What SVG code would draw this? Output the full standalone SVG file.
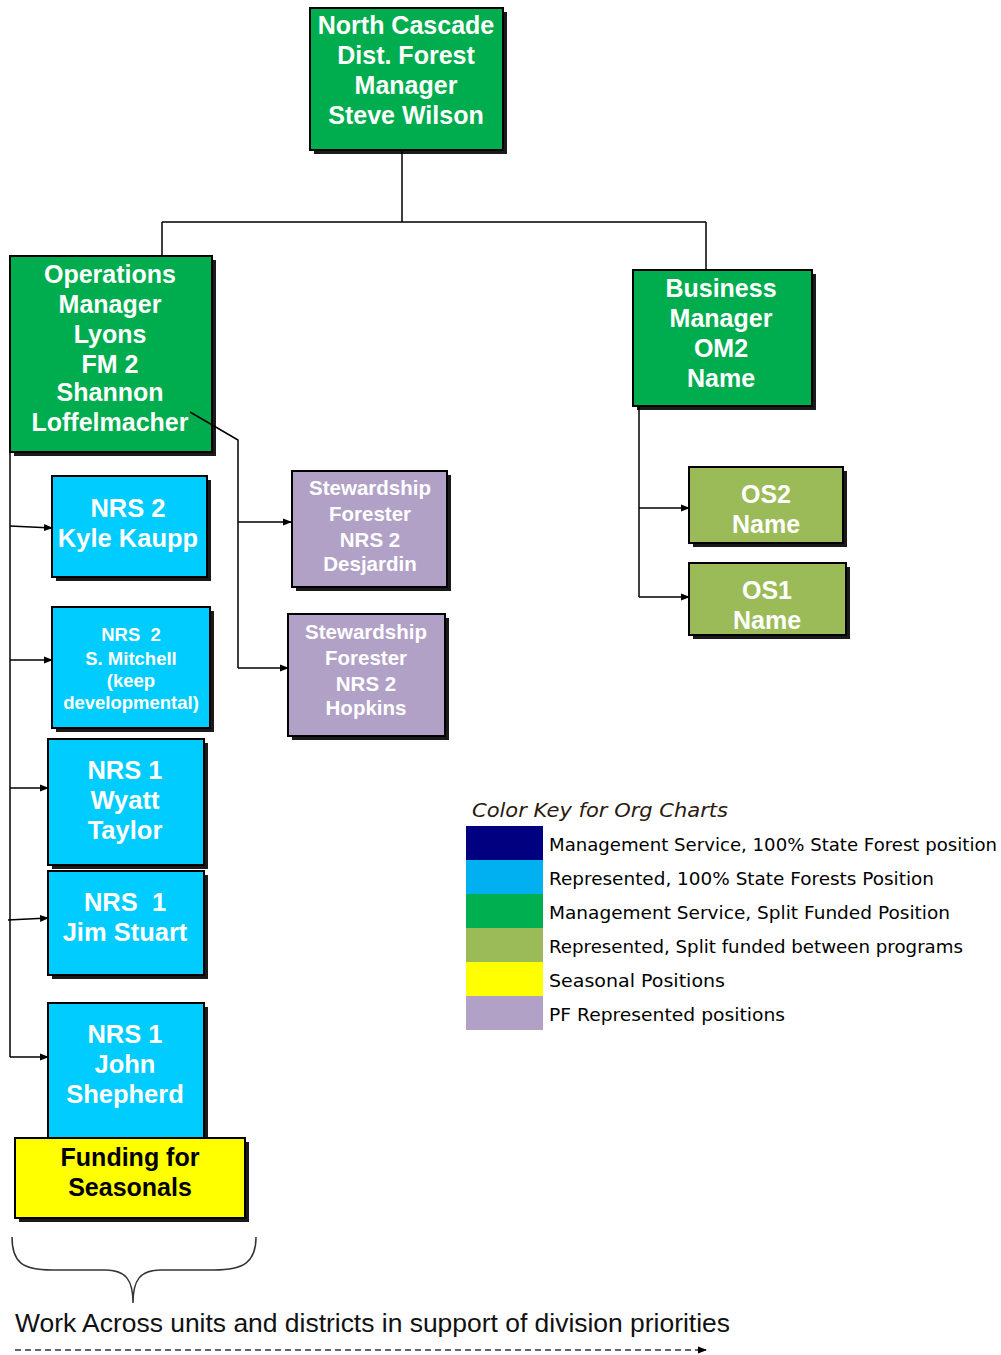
<svg xmlns="http://www.w3.org/2000/svg" width="1001" height="1355" viewBox="0 0 1001 1355">
<defs>
<style>
.sh{fill:#1a1a1a}
.bx{stroke:#000;stroke-width:2}
.g{fill:#00AD4E}
.c{fill:#00CCFF}
.p{fill:#B2A1C7}
.o{fill:#9BBB59}
.y{fill:#FFFF00}
.t{font-family:"Liberation Sans",Arial,sans-serif;font-weight:bold;fill:#fff;text-anchor:middle}
.tb{font-family:"Liberation Sans",Arial,sans-serif;font-weight:bold;fill:#000;text-anchor:middle}
.ln{fill:none;stroke:#000;stroke-width:1.5}
.lg{font-family:"DejaVu Sans","Liberation Sans",sans-serif;font-size:17px;fill:#000}
</style>
<marker id="ah" markerWidth="9" markerHeight="8" refX="8" refY="4" orient="auto" markerUnits="userSpaceOnUse">
<path d="M0,0.5 L9,4 L0,7.5 Z" fill="#000"/>
</marker>
</defs>
<rect width="1001" height="1355" fill="#fff"/>

<g id="n-top">
<rect class="sh" x="314" y="12" width="193" height="142"/>
<rect class="bx g" x="310" y="8" width="193" height="142"/>
<text class="t" font-size="25"><tspan x="406" y="34">North Cascade</tspan><tspan x="406" y="64">Dist. Forest</tspan><tspan x="406" y="94">Manager</tspan><tspan x="406" y="124">Steve Wilson</tspan></text>
</g>

<g id="n-ops">
<rect class="sh" x="14" y="260" width="202" height="196"/>
<rect class="bx g" x="10" y="256" width="202" height="196"/>
<text class="t" font-size="25"><tspan x="110" y="283">Operations</tspan><tspan x="110" y="313">Manager</tspan><tspan x="110" y="343">Lyons</tspan><tspan x="110" y="373">FM 2</tspan><tspan x="110" y="401">Shannon</tspan><tspan x="110" y="431">Loffelmacher</tspan></text>
</g>

<g id="n-bus">
<rect class="sh" x="637" y="274" width="179" height="136"/>
<rect class="bx g" x="633" y="270" width="179" height="136"/>
<text class="t" font-size="25"><tspan x="721" y="297">Business</tspan><tspan x="721" y="327">Manager</tspan><tspan x="721" y="357">OM2</tspan><tspan x="721" y="387">Name</tspan></text>
</g>

<g id="n-os2">
<rect class="sh" x="693" y="471" width="154" height="76"/>
<rect class="bx o" x="689" y="467" width="154" height="76"/>
<text class="t" font-size="25"><tspan x="766" y="503">OS2</tspan><tspan x="766" y="533">Name</tspan></text>
</g>

<g id="n-os1">
<rect class="sh" x="693" y="567" width="157" height="72"/>
<rect class="bx o" x="689" y="563" width="157" height="72"/>
<text class="t" font-size="25"><tspan x="767" y="599">OS1</tspan><tspan x="767" y="629">Name</tspan></text>
</g>

<g id="n-stew1">
<rect class="sh" x="296" y="475" width="155" height="116"/>
<rect class="bx p" x="292" y="471" width="155" height="116"/>
<text class="t" font-size="20.5"><tspan x="370" y="495">Stewardship</tspan><tspan x="370" y="521">Forester</tspan><tspan x="370" y="547">NRS 2</tspan><tspan x="370" y="571">Desjardin</tspan></text>
</g>

<g id="n-stew2">
<rect class="sh" x="292" y="618" width="157" height="122"/>
<rect class="bx p" x="288" y="614" width="157" height="122"/>
<text class="t" font-size="20.5"><tspan x="366" y="639">Stewardship</tspan><tspan x="366" y="665">Forester</tspan><tspan x="366" y="691">NRS 2</tspan><tspan x="366" y="715">Hopkins</tspan></text>
</g>

<g id="n-kyle">
<rect class="sh" x="56" y="480" width="155" height="101"/>
<rect class="bx c" x="52" y="476" width="155" height="101"/>
<text class="t" font-size="25.5"><tspan x="128" y="517">NRS 2</tspan><tspan x="128" y="547">Kyle Kaupp</tspan></text>
</g>

<g id="n-mitchell">
<rect class="sh" x="56" y="611" width="158" height="121"/>
<rect class="bx c" x="52" y="607" width="158" height="121"/>
<text class="t" font-size="18.5"><tspan x="131" y="641">NRS &#160;2</tspan><tspan x="131" y="665">S. Mitchell</tspan><tspan x="131" y="687">(keep</tspan><tspan x="131" y="709">developmental)</tspan></text>
</g>

<g id="n-wyatt">
<rect class="sh" x="52" y="743" width="156" height="126"/>
<rect class="bx c" x="48" y="739" width="156" height="126"/>
<text class="t" font-size="25.5"><tspan x="125" y="779">NRS 1</tspan><tspan x="125" y="809">Wyatt</tspan><tspan x="125" y="839">Taylor</tspan></text>
</g>

<g id="n-jim">
<rect class="sh" x="52" y="875" width="156" height="104"/>
<rect class="bx c" x="48" y="871" width="156" height="104"/>
<text class="t" font-size="25.5"><tspan x="125" y="911">NRS &#160;1</tspan><tspan x="125" y="941">Jim Stuart</tspan></text>
</g>

<g id="n-john">
<rect class="sh" x="52" y="1007" width="156" height="135"/>
<rect class="bx c" x="48" y="1003" width="156" height="135"/>
<text class="t" font-size="25.5"><tspan x="125" y="1043">NRS 1</tspan><tspan x="125" y="1073">John</tspan><tspan x="125" y="1103">Shepherd</tspan></text>
</g>

<g id="n-funding">
<rect class="sh" x="19" y="1142" width="230" height="80"/>
<rect class="bx y" x="15" y="1138" width="230" height="80"/>
<text class="tb" font-size="25"><tspan x="130" y="1166">Funding for</tspan><tspan x="130" y="1196">Seasonals</tspan></text>
</g>

<g id="connectors">
<path class="ln" d="M402,150 V222 M162,222 H706 M162,222 V256 M706,222 V270"/>
<path class="ln" d="M190,412 L238,440 V668"/>
<path class="ln" d="M238,522 H291" marker-end="url(#ah)"/>
<path class="ln" d="M238,668 H288" marker-end="url(#ah)"/>
<path class="ln" d="M10,452 V1057"/>
<path class="ln" d="M10,526 L52,528" marker-end="url(#ah)"/>
<path class="ln" d="M10,660 H52" marker-end="url(#ah)"/>
<path class="ln" d="M10,788 H48" marker-end="url(#ah)"/>
<path class="ln" d="M8,920 L48,918" marker-end="url(#ah)"/>
<path class="ln" d="M10,1057 H48" marker-end="url(#ah)"/>
<path class="ln" d="M639,406 V597"/>
<path class="ln" d="M639,508 H689" marker-end="url(#ah)"/>
<path class="ln" d="M639,597 H689" marker-end="url(#ah)"/>
</g>

<g id="brace">
<path d="M12,1237 C12,1262 22,1270 52,1270 L105,1270 C126,1270 133,1280 133,1303 C133,1280 140,1270 161,1270 L214,1270 C244,1270 256,1262 256,1237" fill="none" stroke="#333" stroke-width="1.5"/>
</g>

<g id="footer">
<text x="15" y="1332" font-family="'Liberation Sans',Arial,sans-serif" font-size="25" fill="#111" textLength="715" lengthAdjust="spacingAndGlyphs">Work Across units and districts in support of division priorities</text>
<path d="M15,1350 H706" fill="none" stroke="#333" stroke-width="1.5" stroke-dasharray="6,4" marker-end="url(#ah)"/>
</g>

<g id="legend">
<text x="472" y="817" font-family="'DejaVu Sans','Liberation Sans',sans-serif" font-style="italic" font-size="19" fill="#2a1a10" textLength="256" lengthAdjust="spacingAndGlyphs">Color Key for Org Charts</text>
<rect x="466" y="826" width="77" height="34" fill="#000080"/>
<rect x="466" y="860" width="77" height="34" fill="#00B0F0"/>
<rect x="466" y="894" width="77" height="34" fill="#00B050"/>
<rect x="466" y="928" width="77" height="34" fill="#9BBB59"/>
<rect x="466" y="962" width="77" height="34" fill="#FFFF00"/>
<rect x="466" y="996" width="77" height="34" fill="#B2A1C7"/>
<text class="lg" x="549" y="851" textLength="448" lengthAdjust="spacingAndGlyphs">Management Service, 100% State Forest position</text>
<text class="lg" x="549" y="885" textLength="385" lengthAdjust="spacingAndGlyphs">Represented, 100% State Forests Position</text>
<text class="lg" x="549" y="919" textLength="401" lengthAdjust="spacingAndGlyphs">Management Service, Split Funded Position</text>
<text class="lg" x="549" y="953" textLength="414" lengthAdjust="spacingAndGlyphs">Represented, Split funded between programs</text>
<text class="lg" x="549" y="987" textLength="176" lengthAdjust="spacingAndGlyphs">Seasonal Positions</text>
<text class="lg" x="549" y="1021" textLength="236" lengthAdjust="spacingAndGlyphs">PF Represented positions</text>
</g>
</svg>
